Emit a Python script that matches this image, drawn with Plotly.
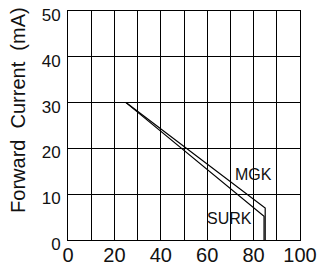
import plotly.graph_objects as go

# Data
mgk_x = [25, 85, 85]
mgk_y = [30, 7, 0]
surk_x = [25, 84.5, 84.5]
surk_y = [30, 5.2, 0]
x_ticks = [0, 20, 40, 60, 80, 100]
y_ticks = [0, 10, 20, 30, 40, 50]
series_names = ["MGK", "SURK"]
label_pos = {"MGK": (79.8, 14.2), "SURK": (69.8, 4.6)}

FONT = "Liberation Sans"
fig = go.Figure()
for name, xs, ys in [("MGK", mgk_x, mgk_y), ("SURK", surk_x, surk_y)]:
    fig.add_trace(go.Scatter(x=xs, y=ys, mode="lines", name=name,
                             line=dict(color="black", width=1.2), showlegend=False))

for name in series_names:
    x, y = label_pos[name]
    fig.add_annotation(x=x, y=y, xref="x", yref="y", text=name, showarrow=False,
                       font=dict(family=FONT, size=16, color="#111"))

fig.add_annotation(x=-0.2155, y=0.568, xref="paper", yref="paper",
                   xanchor="center", yanchor="middle",
                   text="Forward  Current  (mA)", textangle=-90, showarrow=False,
                   font=dict(family=FONT, size=20, color="#111"))

fig.update_xaxes(range=[0, 100], tickmode="array", tickvals=x_ticks,
                 ticktext=[str(v) for v in x_ticks], automargin=False,
                 showgrid=True, gridcolor="black", gridwidth=1,
                 showline=True, linecolor="black", linewidth=1, mirror=True,
                 ticks="", ticklen=0, zeroline=False, ticklabelstandoff=-3,
                 ticklabeloverflow="allow",
                 tickfont=dict(family=FONT, size=20, color="#111"),
                 minor=dict(tickvals=list(range(10, 100, 20)), showgrid=True,
                            gridcolor="black", gridwidth=1, ticks="", ticklen=0))
fig.update_yaxes(range=[0, 50], tickvals=y_ticks, automargin=False,
                 showgrid=True, gridcolor="black",
                 gridwidth=1, showline=True, linecolor="black", linewidth=1, mirror=True,
                 ticks="", ticklen=0, zeroline=False, ticklabelstandoff=3, ticklabelshift=4,
                 ticklabeloverflow="allow",
                 tickfont=dict(family=FONT, size=17, color="#111"))

# the page body adds an 8px margin, so the figure is sized to fit the 326x271 window
fig.update_layout(width=318, height=263, margin=dict(l=60, r=26, t=3, b=31),
                  plot_bgcolor="white", paper_bgcolor="white")
fig.write_html("out.html")
